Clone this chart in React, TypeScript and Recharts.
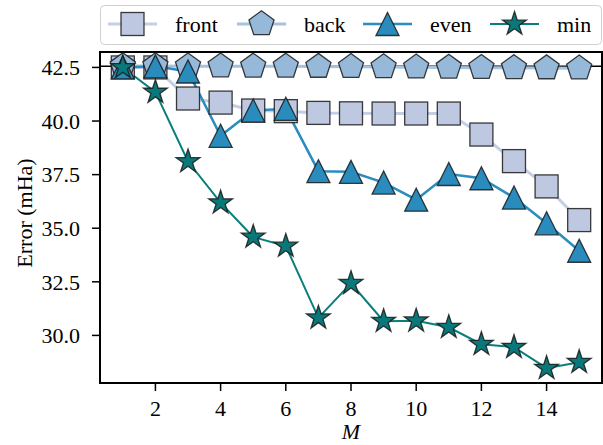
import React from "react";
import { LineChart, Line, XAxis, YAxis, ReferenceLine, ReferenceArea, Legend, Label } from "recharts";

// number of orbitals kept
const M = [1, 2, 3, 4, 5, 6, 7, 8, 9, 10, 11, 12, 13, 14, 15];
const front = [42.5, 42.5, 41.05, 40.86, 40.49, 40.46, 40.38, 40.36, 40.35, 40.35, 40.35, 39.37, 38.13, 36.95, 35.38];
const back = [42.57, 42.57, 42.56, 42.56, 42.55, 42.55, 42.54, 42.53, 42.52, 42.51, 42.5, 42.49, 42.48, 42.47, 42.46];
const even = [42.5, 42.55, 42.31, 39.31, 40.49, 40.57, 37.66, 37.63, 37.13, 36.33, 37.53, 37.33, 36.43, 35.23, 33.95];
const minErr = [42.5, 41.35, 38.11, 36.19, 34.59, 34.17, 30.82, 32.43, 30.66, 30.68, 30.38, 29.59, 29.45, 28.47, 28.75];
const baseline = 42.56;

const xTicks = [2, 4, 6, 8, 10, 12, 14];
const yTicks = [30, 32.5, 35, 37.5, 40, 42.5];
const xDomain = [0.3, 15.7];
const yDomain = [27.78, 43.22];

const data = M.map((m, i) => ({ m, front: front[i], back: back[i], even: even[i], min: minErr[i] }));

const FONT = '"Liberation Serif", "Times New Roman", serif';
const FS = 22;
const EDGE = "#1a1a1a";

type Shape = "square" | "pentagon" | "triangle" | "star";

function polyPoints(cx: number, cy: number, n: number, r: number, inner?: number) {
    const pts: string[] = [];
    const count = inner ? n * 2 : n;
    for (let i = 0; i < count; i++) {
        const a = -Math.PI / 2 + (i * Math.PI * 2) / count;
        const rr = inner && i % 2 === 1 ? r * inner : r;
        pts.push(`${cx + rr * Math.cos(a)},${cy + rr * Math.sin(a)}`);
    }
    return pts.join(" ");
}

function Marker({ shape, cx, cy, fill }: { shape: Shape; cx: number; cy: number; fill: string }) {
    const common = { fill, stroke: EDGE, strokeWidth: 1.3, strokeOpacity: 0.85 };
    if (shape === "square") return <rect x={cx - 11.5} y={cy - 11.5} width={23} height={23} {...common} />;
    if (shape === "pentagon") return <polygon points={polyPoints(cx, cy, 5, 13.2)} {...common} />;
    if (shape === "triangle")
        return <polygon points={`${cx},${cy - 11.5} ${cx - 11.5},${cy + 11.5} ${cx + 11.5},${cy + 11.5}`} {...common} />;
    return <polygon points={polyPoints(cx, cy, 5, 12.5, 0.382)} {...common} />;
}

const series = [
    { key: "front", label: "front", shape: "square" as Shape, line: "#c5cee4", fill: "#bec9e1", width: 3 },
    { key: "back", label: "back", shape: "pentagon" as Shape, line: "#a6c2de", fill: "#96b9da", width: 3 },
    { key: "even", label: "even", shape: "triangle" as Shape, line: "#2b8cbe", fill: "#2a8bbd", width: 2.5 },
    { key: "min", label: "min", shape: "star" as Shape, line: "#0a7e7a", fill: "#08787a", width: 2 },
];

// legend slots: where each handle line starts, inside the legend box
const slotX = [8, 137, 263, 390];

function LegendBox() {
    return (
        <svg width={502} height={40} style={{ display: "block" }}>
            <rect x={0.5} y={0.5} width={501} height={39} rx={4} fill="#fff" fillOpacity={0.85} stroke="#d0d0d0" />
            {series.map((s, i) => (
                <g key={s.key}>
                    <line x1={slotX[i]} x2={slotX[i] + 49} y1={19} y2={19} stroke={s.line} strokeWidth={s.width} />
                    <Marker shape={s.shape} cx={slotX[i] + 24.5} cy={19} fill={s.fill} />
                    <text x={slotX[i] + 67} y={27} fontFamily={FONT} fontSize={FS} fill="#000">{s.label}</text>
                </g>
            ))}
        </svg>
    );
}

export default function App() {
    return (
        <div style={{ position: "absolute", left: 0, top: 0, background: "#fff", fontFamily: FONT }}>
            <LineChart width={603} height={445} data={data} margin={{ top: 52, right: 1, left: 0, bottom: 0 }}>
                <XAxis
                    dataKey="m"
                    type="number"
                    domain={xDomain}
                    ticks={xTicks}
                    height={62}
                    axisLine={false}
                    tickSize={8}
                    tickMargin={9}
                    tickLine={{ stroke: "#000", strokeWidth: 1.5 }}
                    tick={{ fill: "#000", fontFamily: FONT, fontSize: FS }}
                >
                    <Label
                        content={() => (
                            <text x={351} y={439} textAnchor="middle" fontFamily={FONT} fontSize={FS} fontStyle="italic" fill="#000">M</text>
                        )}
                    />
                </XAxis>
                <YAxis
                    type="number"
                    domain={yDomain}
                    ticks={yTicks}
                    width={100}
                    axisLine={false}
                    tickSize={8}
                    tickMargin={12}
                    tickLine={{ stroke: "#000", strokeWidth: 1.5 }}
                    tickFormatter={(v: number) => v.toFixed(1)}
                    tick={{ fill: "#000", fontFamily: FONT, fontSize: FS }}
                >
                    <Label
                        content={() => (
                            <text x={32} y={213} transform="rotate(-90, 32, 213)" textAnchor="middle" fontFamily={FONT} fontSize={FS} fill="#000">Error (mHa)</text>
                        )}
                    />
                </YAxis>
                <ReferenceLine y={baseline} stroke="#000" strokeWidth={1.5} />
                {series.map((s) => (
                    <Line
                        key={s.key}
                        dataKey={s.key}
                        type="linear"
                        stroke={s.line}
                        strokeWidth={s.width}
                        isAnimationActive={false}
                        dot={(p: any) => <Marker key={`${s.key}-${p.index}`} shape={s.shape} cx={p.cx} cy={p.cy} fill={s.fill} />}
                        activeDot={false}
                    />
                ))}
                <ReferenceArea
                    x1={xDomain[0]}
                    x2={xDomain[1]}
                    y1={yDomain[0]}
                    y2={yDomain[1]}
                    fill="none"
                    fillOpacity={0}
                    stroke="#000"
                    strokeWidth={2}
                    strokeOpacity={1}
                />
                <Legend
                    layout="horizontal"
                    verticalAlign="middle"
                    align="center"
                    wrapperStyle={{ top: 5, left: 100, width: 502, height: 40 }}
                    content={() => <LegendBox />}
                />
            </LineChart>
        </div>
    );
}
